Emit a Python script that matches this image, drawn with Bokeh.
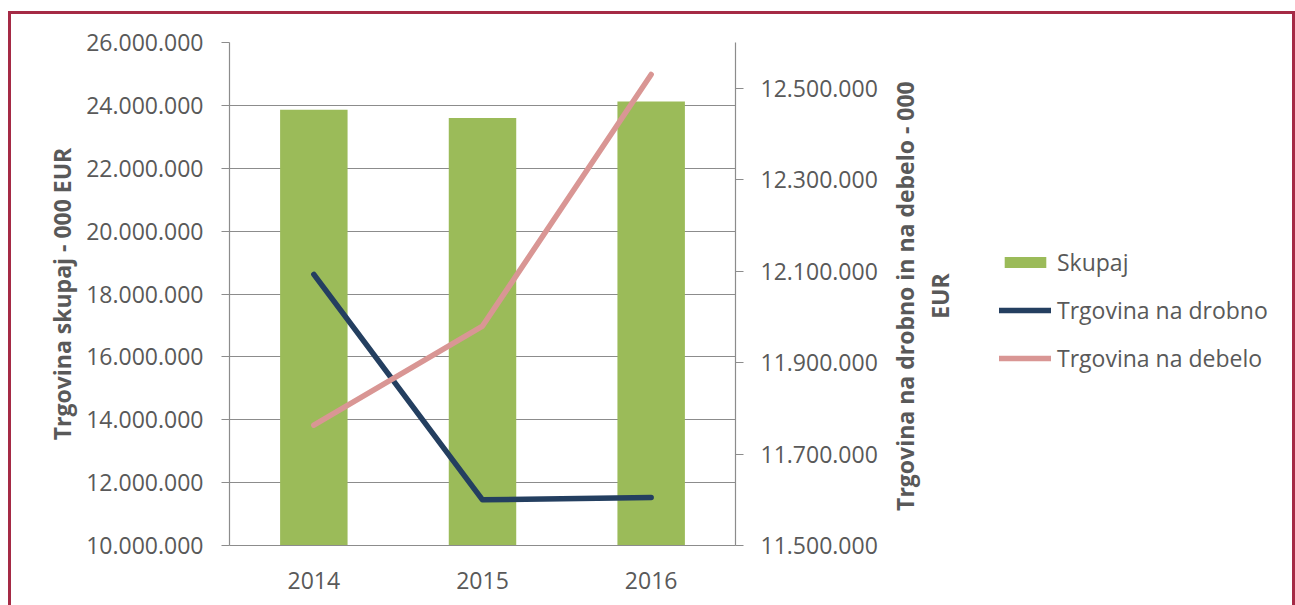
import math
from bokeh.plotting import figure
from bokeh.layouts import row
from bokeh.models import (FactorRange, Range1d, LinearAxis, FixedTicker, Legend, LegendItem)
from bokeh.core.properties import value
from bokeh.embed import file_html
from bokeh.resources import INLINE

# ---- data ----
years = ["2014", "2015", "2016"]
skupaj = [23860000, 23600000, 24120000]
drobno = [12093000, 11600000, 11605000]
debelo = [11763000, 11980000, 12530000]

left_ticks = [10000000, 12000000, 14000000, 16000000, 18000000, 20000000, 22000000, 24000000, 26000000]
right_ticks = [11500000, 11700000, 11900000, 12100000, 12300000, 12500000]

series_names = ["Skupaj", "Trgovina na drobno", "Trgovina na debelo"]
left_title = "Trgovina skupaj - 000 EUR"
right_title = "Trgovina na drobno in na debelo - 000\nEUR"

def fmt(v):
    return f"{v:,}".replace(",", ".")

FONT = "Open Sans"
TXT = "#595959"
GRID = "#8C8C8C"
GREEN = "#9BBB59"
BLUE = "#243F60"
PINK = "#D99694"
BORDER = "#A52A45"

TOTAL_W, H = 1295, 605
W1 = 885
W2 = TOTAL_W - W1
NAN = float("nan")

# ---------------- main chart ----------------
p = figure(x_range=FactorRange(*years, range_padding=0), y_range=Range1d(10000000, 26000000),
           width=W1, height=H, output_backend="svg", toolbar_location=None,
           min_border_left=229, min_border_top=42, min_border_right=W1 - 735, min_border_bottom=60)
p.outline_line_color = None
p.background_fill_color = "white"
p.border_fill_color = None

p.extra_y_ranges = {"right": Range1d(11500000, 12600000)}

bars = p.vbar(x=years, top=skupaj, bottom=10000000, width=0.4, fill_color=GREEN, line_color=None)
l1 = p.line(x=years, y=drobno, y_range_name="right", line_color=BLUE, line_width=5.5,
            line_cap="round", line_join="round")
l2 = p.line(x=years, y=debelo, y_range_name="right", line_color=PINK, line_width=5.5,
            line_cap="round", line_join="round")

def style_y(ax):
    ax.major_tick_out = 8
    ax.major_tick_in = 0
    ax.minor_tick_line_color = None
    ax.axis_line_color = GRID
    ax.major_tick_line_color = GRID
    ax.axis_line_width = 1.2
    ax.major_tick_line_width = 1.2
    ax.major_label_text_font = FONT
    ax.major_label_text_font_size = "23px"
    ax.major_label_text_color = TXT
    ax.axis_label_text_font = FONT
    ax.axis_label_text_font_size = "23px"
    ax.axis_label_text_font_style = "bold"
    ax.axis_label_text_color = TXT

ya = p.yaxis[0]
ya.ticker = FixedTicker(ticks=left_ticks)
ya.major_label_overrides = {t: fmt(t) for t in left_ticks}
ya.axis_label = left_title
style_y(ya)
ya.major_label_standoff = 18
ya.axis_label_standoff = 5

ra = LinearAxis(y_range_name="right", ticker=FixedTicker(ticks=right_ticks))
ra.major_label_overrides = {t: fmt(t) for t in right_ticks}
style_y(ra)
ra.major_label_standoff = 17
p.add_layout(ra, "right")

xa = p.xaxis[0]
xa.major_tick_line_color = None
xa.major_tick_out = 0
xa.axis_line_color = GRID
xa.axis_line_width = 1.2
xa.major_label_text_font = FONT
xa.major_label_text_font_size = "23px"
xa.major_label_text_color = TXT
xa.major_label_standoff = 26

p.xgrid.grid_line_color = None
p.ygrid.grid_line_color = GRID
p.ygrid.grid_line_width = 1.2
p.ygrid.ticker = FixedTicker(ticks=left_ticks)

# ---------------- side panel: right-axis title + legend ----------------
p2 = figure(x_range=Range1d(W1, TOTAL_W), y_range=Range1d(H, 0), width=W2, height=H,
            output_backend="svg", toolbar_location=None,
            x_axis_location=None, y_axis_location=None,
            min_border_left=0, min_border_right=0, min_border_top=0, min_border_bottom=0)
p2.outline_line_color = None
p2.background_fill_color = None
p2.border_fill_color = None
p2.grid.grid_line_color = None

p2.text(x=[922], y=[305], text=[right_title], angle=math.pi / 2,
        text_align="center", text_baseline="middle", text_font=value(FONT),
        text_font_size="23px", text_font_style="bold", text_color=TXT, text_line_height=1.1)

# legend proxies (no visible data) styled like the chart series
lb = p2.vbar(x=[NAN], top=[NAN], width=0.4, fill_color=GREEN, line_color=None)
lr1 = p2.line(x=[NAN], y=[NAN], line_color=BLUE, line_width=5.5, line_cap="round")
lr2 = p2.line(x=[NAN], y=[NAN], line_color=PINK, line_width=5.5, line_cap="round")

legend = Legend(items=[LegendItem(label=series_names[0], renderers=[lb]),
                       LegendItem(label=series_names[1], renderers=[lr1]),
                       LegendItem(label=series_names[2], renderers=[lr2])],
                location=(114, 171))
legend.padding = 0
legend.margin = 0
legend.border_line_color = None
legend.background_fill_alpha = 0
legend.label_standoff = 6
legend.glyph_width = 52
legend.glyph_height = 14
legend.spacing = 16
legend.label_text_font = FONT
legend.label_text_font_size = "23px"
legend.label_text_color = TXT
p2.add_layout(legend)

grad = f"linear-gradient({BORDER}, {BORDER})"
layout = row(p, p2, styles={
    "background-color": "white",
    "background-image": f"{grad}, {grad}, {grad}",
    "background-position": "8px 11px, 8px 11px, 1292px 11px",
    "background-size": "3px 700px, 1287px 3px, 3px 700px",
    "background-repeat": "no-repeat",
})

open("out.html", "w").write(file_html(layout, INLINE))
